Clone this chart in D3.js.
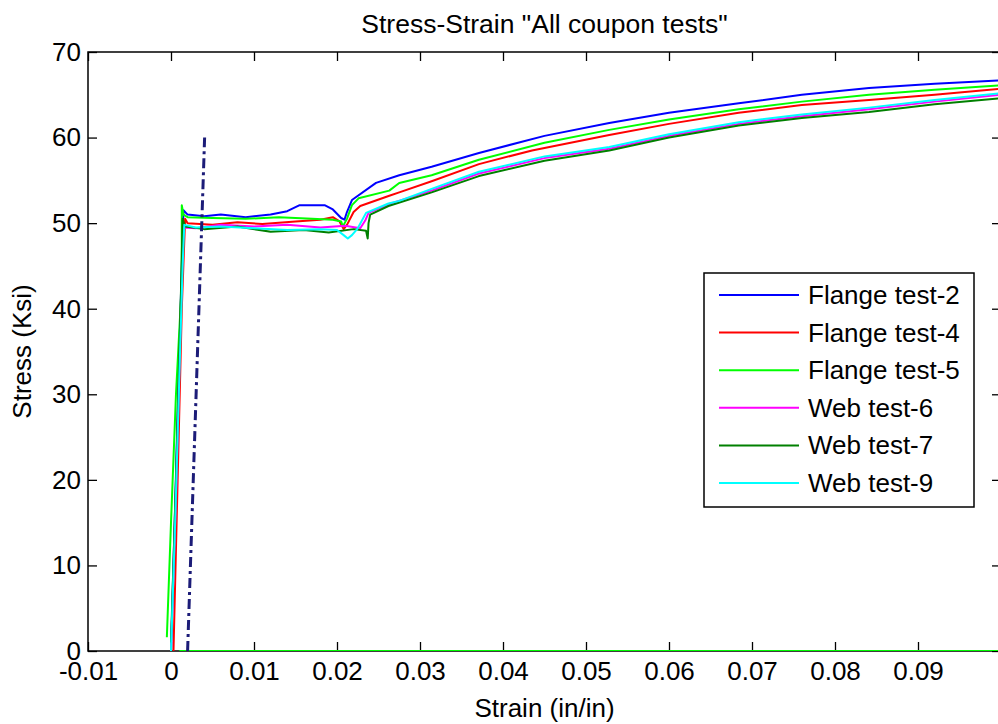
<!DOCTYPE html>
<html>
<head>
<meta charset="utf-8">
<script src="https://cdn.jsdelivr.net/npm/d3@7"></script>
<style>
  html, body { margin: 0; padding: 0; background: #fff; }
  svg { display: block; font-family: Arial, "Liberation Sans", sans-serif; }
</style>
</head>
<body>
<div id="chart"></div>
<script>
// Stress-strain curves for the coupon tests
// strain (in/in), stress (ksi)

var names = ["Flange test-2", "Flange test-4", "Flange test-5", "Web test-6", "Web test-7", "Web test-9"];
var colors = ["#0000ff", "#ff0000", "#00ff00", "#ff00ff", "#008000", "#00ffff"];

var flange2 = [[0.0, 0], [0.0005, 17], [0.001, 35], [0.0015, 51.5], [0.002, 51.0], [0.004, 50.8], [0.006, 51.0],
  [0.009, 50.7], [0.012, 51.0], [0.014, 51.4], [0.0155, 52.1], [0.0185, 52.1], [0.0195, 51.6], [0.0205, 50.6],
  [0.0209, 50.4], [0.0212, 51.3], [0.0218, 52.7], [0.0247, 54.7], [0.0275, 55.6], [0.0314, 56.6], [0.0371, 58.2],
  [0.045, 60.2], [0.0528, 61.7], [0.060, 62.9], [0.0684, 64.0], [0.076, 65.0], [0.0841, 65.8], [0.092, 66.3], [0.1, 66.7]];

var flange4 = [[0.0003, 0], [0.0008, 20], [0.0013, 40], [0.0017, 50.5], [0.002, 50.0], [0.005, 49.8], [0.008, 50.1],
  [0.011, 49.9], [0.015, 50.2], [0.018, 50.4], [0.0195, 50.7], [0.0203, 50.2], [0.0208, 49.3], [0.0212, 49.8],
  [0.022, 51.3], [0.0228, 52.0], [0.0263, 53.2], [0.0275, 53.6], [0.0314, 54.9], [0.0371, 56.9], [0.0435, 58.5],
  [0.0528, 60.3], [0.060, 61.6], [0.0684, 62.9], [0.076, 63.8], [0.0841, 64.4], [0.092, 65.0], [0.1, 65.7]];

var flange5 = [[-0.0005, 1.6], [0.0, 15], [0.0006, 30], [0.0013, 43], [0.0013, 52.1], [0.0015, 51.0], [0.002, 50.7],
  [0.005, 50.6], [0.009, 50.5], [0.013, 50.7], [0.017, 50.5], [0.0195, 50.4], [0.0205, 50.2], [0.0207, 49.6],
  [0.0212, 50.5], [0.0218, 52.1], [0.0226, 52.9], [0.0263, 53.8], [0.0275, 54.7], [0.0314, 55.6], [0.0371, 57.4],
  [0.045, 59.4], [0.0528, 60.9], [0.060, 62.1], [0.0684, 63.3], [0.076, 64.2], [0.0841, 65.0], [0.092, 65.6],
  [0.1, 66.1], [0.12, 66.5], [0.12, 0], [0.001, 0]];

var web6 = [[0.0, 0], [0.0006, 18], [0.0012, 40], [0.0015, 49.5], [0.003, 49.4], [0.006, 49.8], [0.010, 49.6],
  [0.014, 49.8], [0.018, 49.5], [0.021, 49.7], [0.0228, 49.4], [0.0234, 50.3], [0.0238, 51.2], [0.0262, 52.2],
  [0.0314, 53.8], [0.0371, 55.8], [0.045, 57.6], [0.0528, 58.7], [0.060, 60.2], [0.0684, 61.6], [0.076, 62.5],
  [0.0841, 63.3], [0.092, 64.2], [0.1, 65.0]];

var web7 = [[0.0, 1], [0.0006, 20], [0.0012, 42], [0.0014, 50.5], [0.0017, 49.6], [0.004, 49.3], [0.008, 49.6],
  [0.012, 49.0], [0.016, 49.2], [0.019, 48.9], [0.022, 49.3], [0.0235, 49.1], [0.0237, 48.2], [0.0238, 50.0],
  [0.024, 51.0], [0.0262, 52.0], [0.0314, 53.6], [0.0371, 55.5], [0.045, 57.3], [0.0528, 58.5], [0.060, 60.0],
  [0.0684, 61.4], [0.076, 62.3], [0.0841, 63.0], [0.092, 63.9], [0.1, 64.6]];

var web9 = [[0.0, 0], [0.0005, 15], [0.001, 32], [0.0014, 45], [0.0016, 49.8], [0.003, 49.5], [0.006, 49.6],
  [0.010, 49.4], [0.014, 49.2], [0.018, 49.3], [0.020, 49.2], [0.0208, 48.6], [0.0213, 48.2], [0.0218, 48.6],
  [0.0225, 49.4], [0.0235, 51.2], [0.0262, 52.3], [0.0275, 52.6], [0.0314, 54.0], [0.0371, 56.0], [0.045, 57.8],
  [0.0528, 58.9], [0.060, 60.4], [0.0684, 61.8], [0.076, 62.7], [0.0841, 63.5], [0.092, 64.4], [0.1, 65.2]];

var series = [flange2, flange4, flange5, web6, web7, web9];

// 0.2% offset line
var offsetLine = [[0.002, 0], [0.00405, 60]];

var xTicks = [-0.01, 0, 0.01, 0.02, 0.03, 0.04, 0.05, 0.06, 0.07, 0.08, 0.09, 0.1];
var xTickLabels = ["-0.01", "0", "0.01", "0.02", "0.03", "0.04", "0.05", "0.06", "0.07", "0.08", "0.09", ""];
var yTicks = [0, 10, 20, 30, 40, 50, 60, 70];

var width = 998, height = 724;
var margin = { top: 52, right: -3, bottom: 73, left: 88 };
var x0 = margin.left, x1 = width - margin.right;
var y0 = height - margin.bottom, y1 = margin.top;

var x = d3.scaleLinear().domain([-0.01, 0.1]).range([x0, x1]);
var y = d3.scaleLinear().domain([0, 70]).range([y0, y1]);

var svg = d3.select("#chart").append("svg")
  .attr("width", width)
  .attr("height", height);

svg.append("defs").append("clipPath").attr("id", "plotclip")
  .append("rect").attr("x", x0).attr("y", y1).attr("width", x1 - x0).attr("height", y0 - y1);

// axes (inward ticks on all four sides)
var gx = svg.append("g").attr("transform", "translate(0," + y0 + ")")
  .call(d3.axisBottom(x).tickValues(xTicks).tickSize(-9).tickSizeOuter(0).tickPadding(11)
    .tickFormat(function(d, i) { return xTickLabels[i]; }));
var gxt = svg.append("g").attr("transform", "translate(0," + y1 + ")")
  .call(d3.axisTop(x).tickValues(xTicks).tickSize(-9).tickSizeOuter(0).tickFormat(""));
var gy = svg.append("g").attr("transform", "translate(" + x0 + ",0)")
  .call(d3.axisLeft(y).tickValues(yTicks).tickSize(-9).tickSizeOuter(0).tickPadding(7));
var gyr = svg.append("g").attr("transform", "translate(" + x1 + ",0)")
  .call(d3.axisRight(y).tickValues(yTicks).tickSize(-9).tickSizeOuter(0).tickFormat(""));

[gx, gxt, gy, gyr].forEach(function(g) {
  g.select(".domain").remove();
  g.selectAll(".tick line").attr("stroke", "#000").attr("stroke-width", 1.3);
  g.selectAll(".tick text").attr("fill", "#000").style("font-size", "26px")
    .style("font-family", "Arial, 'Liberation Sans', sans-serif");
});

svg.append("rect")
  .attr("x", x0).attr("y", y1)
  .attr("width", x1 - x0).attr("height", y0 - y1)
  .attr("fill", "none").attr("stroke", "#000").attr("stroke-width", 1.5);

// data
var line = d3.line().x(function(d) { return x(d[0]); }).y(function(d) { return y(d[1]); });
var plot = svg.append("g").attr("clip-path", "url(#plotclip)");

series.forEach(function(s, i) {
  plot.append("path")
    .datum(s)
    .attr("d", line)
    .attr("fill", "none")
    .attr("stroke", colors[i])
    .attr("stroke-width", 2)
    .attr("stroke-linejoin", "round");
});

plot.append("path")
  .datum(offsetLine)
  .attr("d", line)
  .attr("fill", "none")
  .attr("stroke", "#1c1c78")
  .attr("stroke-width", 3)
  .attr("stroke-dasharray", "10,4,3,4");

// title and axis labels
svg.append("text")
  .attr("x", (x0 + x1) / 2).attr("y", 33)
  .attr("text-anchor", "middle")
  .style("font-size", "26.5px")
  .text('Stress-Strain "All coupon tests"');

svg.append("text")
  .attr("x", (x0 + x1) / 2).attr("y", 717)
  .attr("text-anchor", "middle")
  .style("font-size", "26px")
  .text("Strain (in/in)");

svg.append("text")
  .attr("transform", "translate(31," + ((y0 + y1) / 2) + ") rotate(-90)")
  .attr("text-anchor", "middle")
  .style("font-size", "26px")
  .text("Stress (Ksi)");

// legend
var lg = svg.append("g").attr("transform", "translate(704,273)");
lg.append("rect")
  .attr("width", 270).attr("height", 234)
  .attr("fill", "#fff").attr("stroke", "#000").attr("stroke-width", 1.5);

names.forEach(function(n, i) {
  var cy = 22 + i * 37.6;
  lg.append("line")
    .attr("x1", 15).attr("x2", 95).attr("y1", cy).attr("y2", cy)
    .attr("stroke", colors[i]).attr("stroke-width", 2);
  lg.append("text")
    .attr("x", 104).attr("y", cy + 9)
    .style("font-size", "26px")
    .text(n);
});
</script>
</body>
</html>
